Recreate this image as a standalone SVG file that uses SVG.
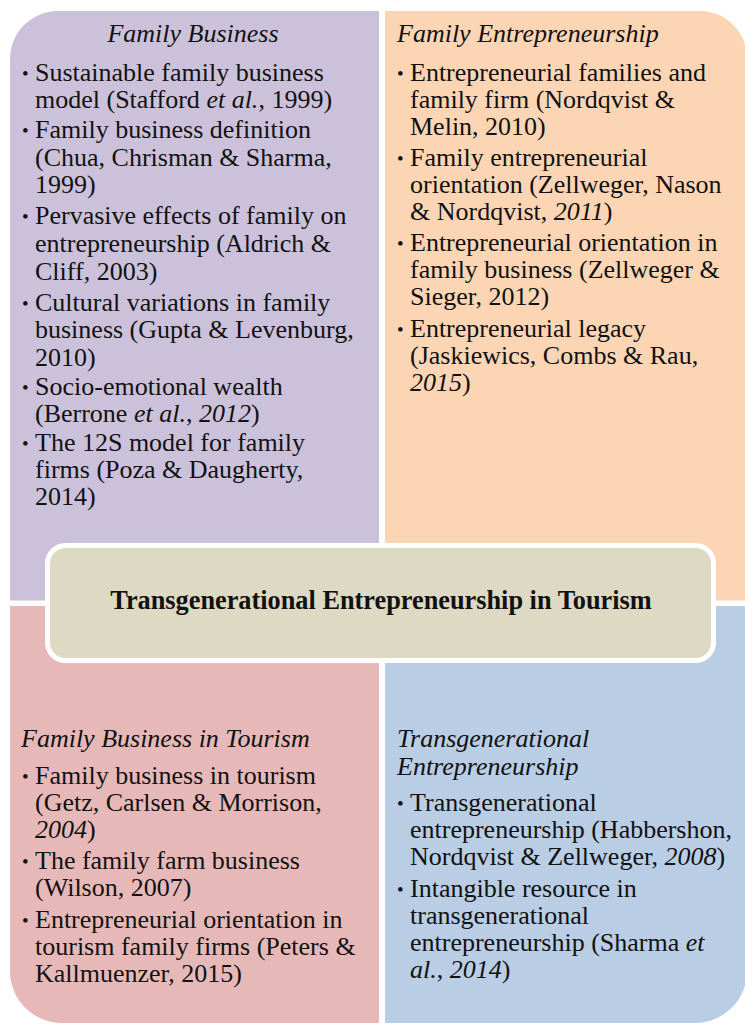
<svg xmlns="http://www.w3.org/2000/svg" width="745" height="1025" viewBox="0 0 745 1025">
<style>
text { font-family: "Liberation Serif", "Times New Roman", serif; font-size: 26px; fill: #111; }
.ttl { font-style: italic; }
.i { font-style: italic; }
.bul { font-size: 19px; }
.center { font-weight: bold; text-anchor: middle; font-size: 26.3px; }
</style>
<rect width="745" height="1025" fill="#fff"/>
<g id="family-business">
<path d="M10,59 A48,48 0 0 1 58,11 H379 V600.5 H10 Z" fill="#CCC1DA"/>
<text class="ttl" x="193" y="42" text-anchor="middle">Family Business</text>
<text class="bul" x="22" y="80">•</text>
<text x="35" y="81">Sustainable family business</text>
<text x="35" y="108">model (Stafford <tspan class="i">et al.</tspan>, 1999)</text>
<text class="bul" x="22" y="137">•</text>
<text x="35" y="138">Family business definition</text>
<text x="35" y="166">(Chua, Chrisman &amp; Sharma,</text>
<text x="35" y="193">1999)</text>
<text class="bul" x="22" y="223">•</text>
<text x="35" y="224">Pervasive effects of family on</text>
<text x="35" y="252">entrepreneurship (Aldrich &amp;</text>
<text x="35" y="280">Cliff, 2003)</text>
<text class="bul" x="22" y="310">•</text>
<text x="35" y="311">Cultural variations in family</text>
<text x="35" y="338">business (Gupta &amp; Levenburg,</text>
<text x="35" y="366">2010)</text>
<text class="bul" x="22" y="394">•</text>
<text x="35" y="395">Socio-emotional wealth</text>
<text x="35" y="422">(Berrone <tspan class="i">et al.</tspan>, <tspan class="i">2012</tspan>)</text>
<text class="bul" x="22" y="450">•</text>
<text x="35" y="451">The 12S model for family</text>
<text x="35" y="478">firms (Poza &amp; Daugherty,</text>
<text x="35" y="505">2014)</text>
</g>
<g id="family-entrepreneurship">
<path d="M385,11 H700 A47,47 0 0 1 747,58 V600.5 H385 Z" fill="#FCD5B5"/>
<text class="ttl" x="397" y="42">Family Entrepreneurship</text>
<text class="bul" x="397" y="80">•</text>
<text x="410" y="81">Entrepreneurial families and</text>
<text x="410" y="108">family firm (Nordqvist &amp;</text>
<text x="410" y="135">Melin, 2010)</text>
<text class="bul" x="397" y="165">•</text>
<text x="410" y="166">Family entrepreneurial</text>
<text x="410" y="193">orientation (Zellweger, Nason</text>
<text x="410" y="220">&amp; Nordqvist, <tspan class="i">2011</tspan>)</text>
<text class="bul" x="397" y="250">•</text>
<text x="410" y="251">Entrepreneurial orientation in</text>
<text x="410" y="278">family business (Zellweger &amp;</text>
<text x="410" y="305">Sieger, 2012)</text>
<text class="bul" x="397" y="336">•</text>
<text x="410" y="337">Entrepreneurial legacy</text>
<text x="410" y="364">(Jaskiewics, Combs &amp; Rau,</text>
<text x="410" y="391"><tspan class="i">2015</tspan>)</text>
</g>
<g id="family-business-tourism">
<path d="M10,606 H379 V1023 H62 A52,52 0 0 1 10,971 Z" fill="#E6B9B8"/>
<text class="ttl" x="21" y="747">Family Business in Tourism</text>
<text class="bul" x="22" y="783">•</text>
<text x="35" y="784">Family business in tourism</text>
<text x="35" y="811">(Getz, Carlsen &amp; Morrison,</text>
<text x="35" y="838"><tspan class="i">2004</tspan>)</text>
<text class="bul" x="22" y="868">•</text>
<text x="35" y="869">The family farm business</text>
<text x="35" y="896">(Wilson, 2007)</text>
<text class="bul" x="22" y="927">•</text>
<text x="35" y="928">Entrepreneurial orientation in</text>
<text x="35" y="955">tourism family firms (Peters &amp;</text>
<text x="35" y="982">Kallmuenzer, 2015)</text>
</g>
<g id="transgenerational-entrepreneurship">
<path d="M385,606 H747 V971 A52,52 0 0 1 695,1023 H385 Z" fill="#B9CDE5"/>
<text class="ttl" x="397" y="747">Transgenerational</text>
<text class="ttl" x="397" y="775">Entrepreneurship</text>
<text class="bul" x="397" y="810">•</text>
<text x="410" y="811">Transgenerational</text>
<text x="410" y="838">entrepreneurship (Habbershon,</text>
<text x="410" y="865">Nordqvist &amp; Zellweger, <tspan class="i">2008</tspan>)</text>
<text class="bul" x="397" y="896">•</text>
<text x="410" y="897">Intangible resource in</text>
<text x="410" y="924">transgenerational</text>
<text x="410" y="951">entrepreneurship (Sharma <tspan class="i">et</tspan></text>
<text x="410" y="978"><tspan class="i">al.</tspan>, <tspan class="i">2014</tspan>)</text>
</g>
<g id="center-topic">
<rect x="47.5" y="545.5" width="666" height="115" rx="18" fill="#DDD9C3" stroke="#fff" stroke-width="5"/>
<text class="center" x="381" y="609">Transgenerational Entrepreneurship in Tourism</text>
</g>
<g id="connectors"/>
</svg>
